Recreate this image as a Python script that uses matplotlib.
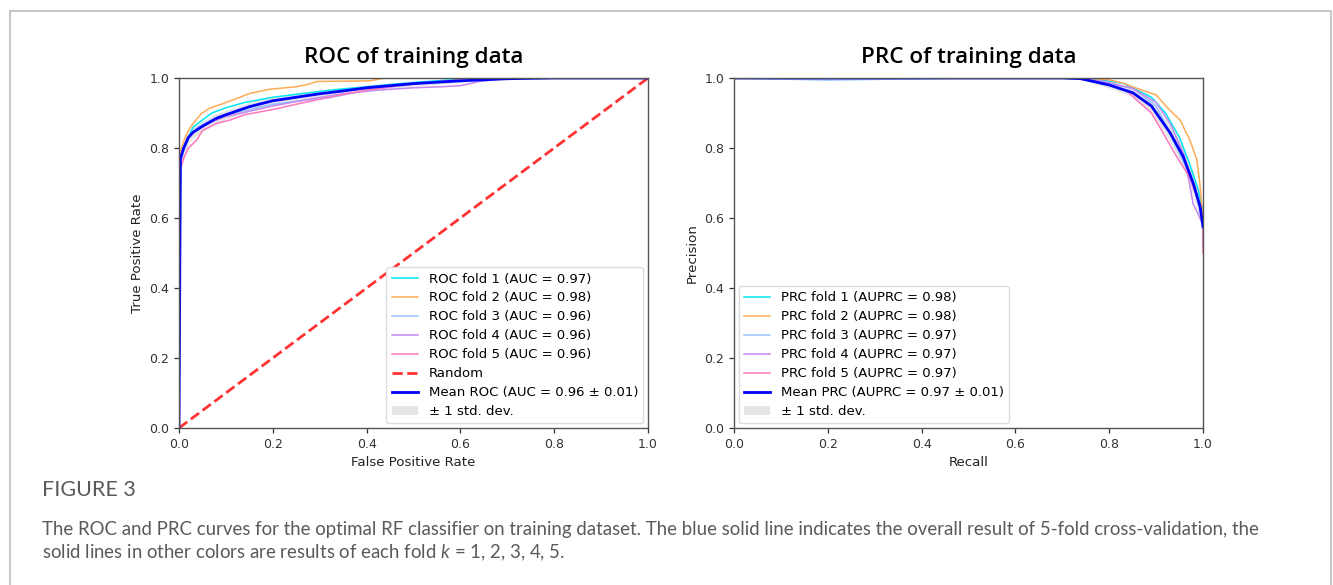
import numpy as np
import matplotlib
matplotlib.use("Agg")
import matplotlib.pyplot as plt
from matplotlib.patches import Rectangle

plt.rcParams['mathtext.fontset'] = 'custom'
plt.rcParams['mathtext.rm'] = 'Lato'
plt.rcParams['mathtext.it'] = 'Lato:italic'

# ---- ROC data ----
roc_fpr = [
    [0, 0.003, 0.01, 0.02, 0.03, 0.05, 0.07, 0.10, 0.14, 0.20, 0.26, 0.32, 0.40, 0.48, 0.56, 0.65, 1.0],
    [0, 0.003, 0.01, 0.02, 0.03, 0.048, 0.066, 0.09, 0.12, 0.151, 0.194, 0.25, 0.279, 0.293, 0.407, 0.44, 1.0],
    [0, 0.003, 0.01, 0.02, 0.04, 0.07, 0.10, 0.15, 0.20, 0.26, 0.32, 0.38, 0.45, 0.52, 0.60, 0.68, 1.0],
    [0, 0.003, 0.01, 0.02, 0.04, 0.07, 0.10, 0.15, 0.20, 0.28, 0.35, 0.42, 0.50, 0.56, 0.60, 0.64, 0.70, 1.0],
    [0, 0.003, 0.01, 0.02, 0.038, 0.05, 0.08, 0.109, 0.14, 0.20, 0.25, 0.32, 0.40, 0.48, 0.56, 0.64, 1.0],
]
roc_tpr = [
    [0, 0.77, 0.80, 0.83, 0.86, 0.88, 0.90, 0.915, 0.93, 0.945, 0.955, 0.965, 0.975, 0.985, 0.993, 1.0, 1.0],
    [0, 0.79, 0.82, 0.85, 0.87, 0.899, 0.914, 0.925, 0.94, 0.956, 0.968, 0.975, 0.983, 0.99, 0.992, 1.0, 1.0],
    [0, 0.75, 0.79, 0.83, 0.86, 0.88, 0.895, 0.91, 0.925, 0.935, 0.943, 0.96, 0.975, 0.985, 0.99, 1.0, 1.0],
    [0, 0.76, 0.80, 0.83, 0.855, 0.875, 0.89, 0.905, 0.92, 0.94, 0.955, 0.965, 0.972, 0.975, 0.978, 0.99, 1.0, 1.0],
    [0, 0.74, 0.77, 0.80, 0.823, 0.85, 0.87, 0.88, 0.895, 0.91, 0.925, 0.945, 0.965, 0.98, 0.99, 1.0, 1.0],
]
roc_auc = [0.97, 0.98, 0.96, 0.96, 0.96]

mean_fpr = [0, 0.003, 0.01, 0.02, 0.03, 0.05, 0.08, 0.10, 0.15, 0.20, 0.25, 0.30, 0.35, 0.40, 0.50, 0.60, 0.70, 0.80, 1.0]
mean_tpr = [0, 0.77, 0.80, 0.83, 0.845, 0.862, 0.885, 0.895, 0.918, 0.935, 0.945, 0.955, 0.963, 0.972, 0.984, 0.992, 0.998, 1.0, 1.0]
std_tpr = [0, 0.02, 0.02, 0.018, 0.016, 0.015, 0.014, 0.013, 0.013, 0.013, 0.012, 0.011, 0.010, 0.009, 0.007, 0.005, 0.003, 0.0, 0.0]

# ---- PRC data ----
prc_rec = [
    [0, 0.2, 0.5, 0.72, 0.78, 0.83, 0.86, 0.89, 0.92, 0.95, 0.97, 0.99, 1.0, 1.0],
    [0, 0.2, 0.5, 0.74, 0.80, 0.83, 0.87, 0.90, 0.922, 0.951, 0.972, 0.987, 0.994, 0.999, 1.0],
    [0, 0.1, 0.2, 0.3, 0.5, 0.72, 0.78, 0.85, 0.90, 0.93, 0.955, 0.98, 1.0, 1.0],
    [0, 0.3, 0.6, 0.73, 0.79, 0.85, 0.90, 0.93, 0.96, 0.979, 0.99, 1.0, 1.0],
    [0, 0.3, 0.6, 0.72, 0.77, 0.816, 0.84, 0.866, 0.89, 0.915, 0.944, 0.97, 0.99, 1.0, 1.0],
]
prc_prec = [
    [1, 1, 1, 1, 0.995, 0.985, 0.965, 0.945, 0.90, 0.83, 0.76, 0.68, 0.62, 0.56],
    [1, 1, 1, 1, 0.995, 0.985, 0.965, 0.952, 0.918, 0.88, 0.823, 0.766, 0.69, 0.604, 0.55],
    [1, 0.997, 0.994, 0.996, 1, 1, 0.99, 0.97, 0.92, 0.84, 0.77, 0.70, 0.58, 0.52],
    [1, 1, 1, 1, 0.99, 0.97, 0.93, 0.87, 0.78, 0.64, 0.61, 0.58, 0.52],
    [1, 1, 1, 1, 0.99, 0.975, 0.96, 0.928, 0.90, 0.843, 0.775, 0.72, 0.65, 0.58, 0.50],
]
prc_auc = [0.98, 0.98, 0.97, 0.97, 0.97]

mean_rec = [0, 0.1, 0.3, 0.5, 0.7, 0.74, 0.80, 0.85, 0.89, 0.93, 0.958, 0.979, 0.994, 1.0]
mean_prec = [1.0, 1.0, 1.0, 1.0, 1.0, 0.998, 0.98, 0.958, 0.92, 0.843, 0.775, 0.70, 0.632, 0.575]
std_prec = [0, 0.002, 0.002, 0.001, 0.001, 0.003, 0.008, 0.012, 0.018, 0.025, 0.03, 0.035, 0.04, 0.045]

fold_colors = ['#00e8f0', '#ffab55', '#98c4ff', '#c488f0', '#ff78bc']
ticks = [0.0, 0.2, 0.4, 0.6, 0.8, 1.0]

fig = plt.figure(figsize=(13.33, 5.85), dpi=100)

# frame around the figure panel
fig.patches.append(Rectangle((10 / 1333, -0.1), 1321 / 1333, 1.1 - 11 / 585,
                             transform=fig.transFigure, fill=False,
                             edgecolor='#c8c8c8', linewidth=1.5))

ax1 = fig.add_axes([179 / 1333, 1 - 428 / 585, 469 / 1333, 350 / 585])
ax2 = fig.add_axes([734 / 1333, 1 - 428 / 585, 469 / 1333, 350 / 585])


def style(ax, title, xlabel, ylabel):
    ax.set_xlim(0, 1)
    ax.set_ylim(0, 1)
    ax.set_xticks(ticks)
    ax.set_yticks(ticks)
    ax.set_xticklabels(['%.1f' % t for t in ticks])
    ax.set_yticklabels(['%.1f' % t for t in ticks])
    ax.tick_params(labelsize=9, colors='#333333', length=3.5, width=0.9)
    for s in ax.spines.values():
        s.set_color('#555555')
        s.set_linewidth(1.0)
    ax.set_title(title, fontsize=16.2, fontfamily='Open Sans', fontweight='semibold', pad=11)
    ax.set_xlabel(xlabel, fontsize=9.6, color='#222222', labelpad=4)
    ax.set_ylabel(ylabel, fontsize=9.6, color='#222222', labelpad=4)


# ROC panel
for i in range(5):
    ax1.plot(roc_fpr[i], roc_tpr[i], color=fold_colors[i], lw=1.1,
             label='ROC fold %d (AUC = %.2f)' % (i + 1, roc_auc[i]))
ax1.plot([0, 1], [0, 1], ls='--', color='#ff3333', lw=2, label='Random')
ax1.plot(mean_fpr, mean_tpr, color='#0000ff', lw=2,
         label='Mean ROC (AUC = 0.96 \u00b1 0.01)')
mt = np.array(mean_tpr)
sd = np.array(std_tpr)
ax1.fill_between(mean_fpr, np.clip(mt - sd, 0, 1), np.clip(mt + sd, 0, 1),
                 color='grey', alpha=0.2, lw=0, label='\u00b1 1 std. dev.')
style(ax1, 'ROC of training data', 'False Positive Rate', 'True Positive Rate')
ax1.legend(loc='lower right', fontsize=9.5, framealpha=1, edgecolor='#dddddd',
           labelspacing=0.45, borderaxespad=0.35)

# PRC panel
for i in range(5):
    ax2.plot(prc_rec[i], prc_prec[i], color=fold_colors[i], lw=1.1,
             label='PRC fold %d (AUPRC = %.2f)' % (i + 1, prc_auc[i]))
ax2.plot(mean_rec, mean_prec, color='#0000ff', lw=2,
         label='Mean PRC (AUPRC = 0.97 \u00b1 0.01)')
mp = np.array(mean_prec)
sp = np.array(std_prec)
ax2.fill_between(mean_rec, np.clip(mp - sp, 0, 1), np.clip(mp + sp, 0, 1),
                 color='grey', alpha=0.2, lw=0, label='\u00b1 1 std. dev.')
style(ax2, 'PRC of training data', 'Recall', 'Precision')
ax2.legend(loc='lower left', fontsize=9.5, framealpha=1, edgecolor='#dddddd',
           labelspacing=0.45, borderaxespad=0.35)

# caption
cap_color = '#5a5a5a'
fig.text(42 / 1333, 1 - 490 / 585, 'FIGURE 3', fontsize=15.5, fontfamily='Lato',
         color=cap_color, va='center', ha='left')
fig.text(42 / 1333, 1 - 529 / 585,
         'The ROC and PRC curves for the optimal RF classifier on training dataset. '
         'The blue solid line indicates the overall result of 5-fold cross-validation, the',
         fontsize=13.4, fontfamily='Lato', color=cap_color, va='center', ha='left')
fig.text(42 / 1333, 1 - 553 / 585,
         r'solid lines in other colors are results of each fold $k$ = 1, 2, 3, 4, 5.',
         fontsize=13.4, fontfamily='Lato', color=cap_color, va='center', ha='left')

fig.savefig('out.png', dpi=100)
